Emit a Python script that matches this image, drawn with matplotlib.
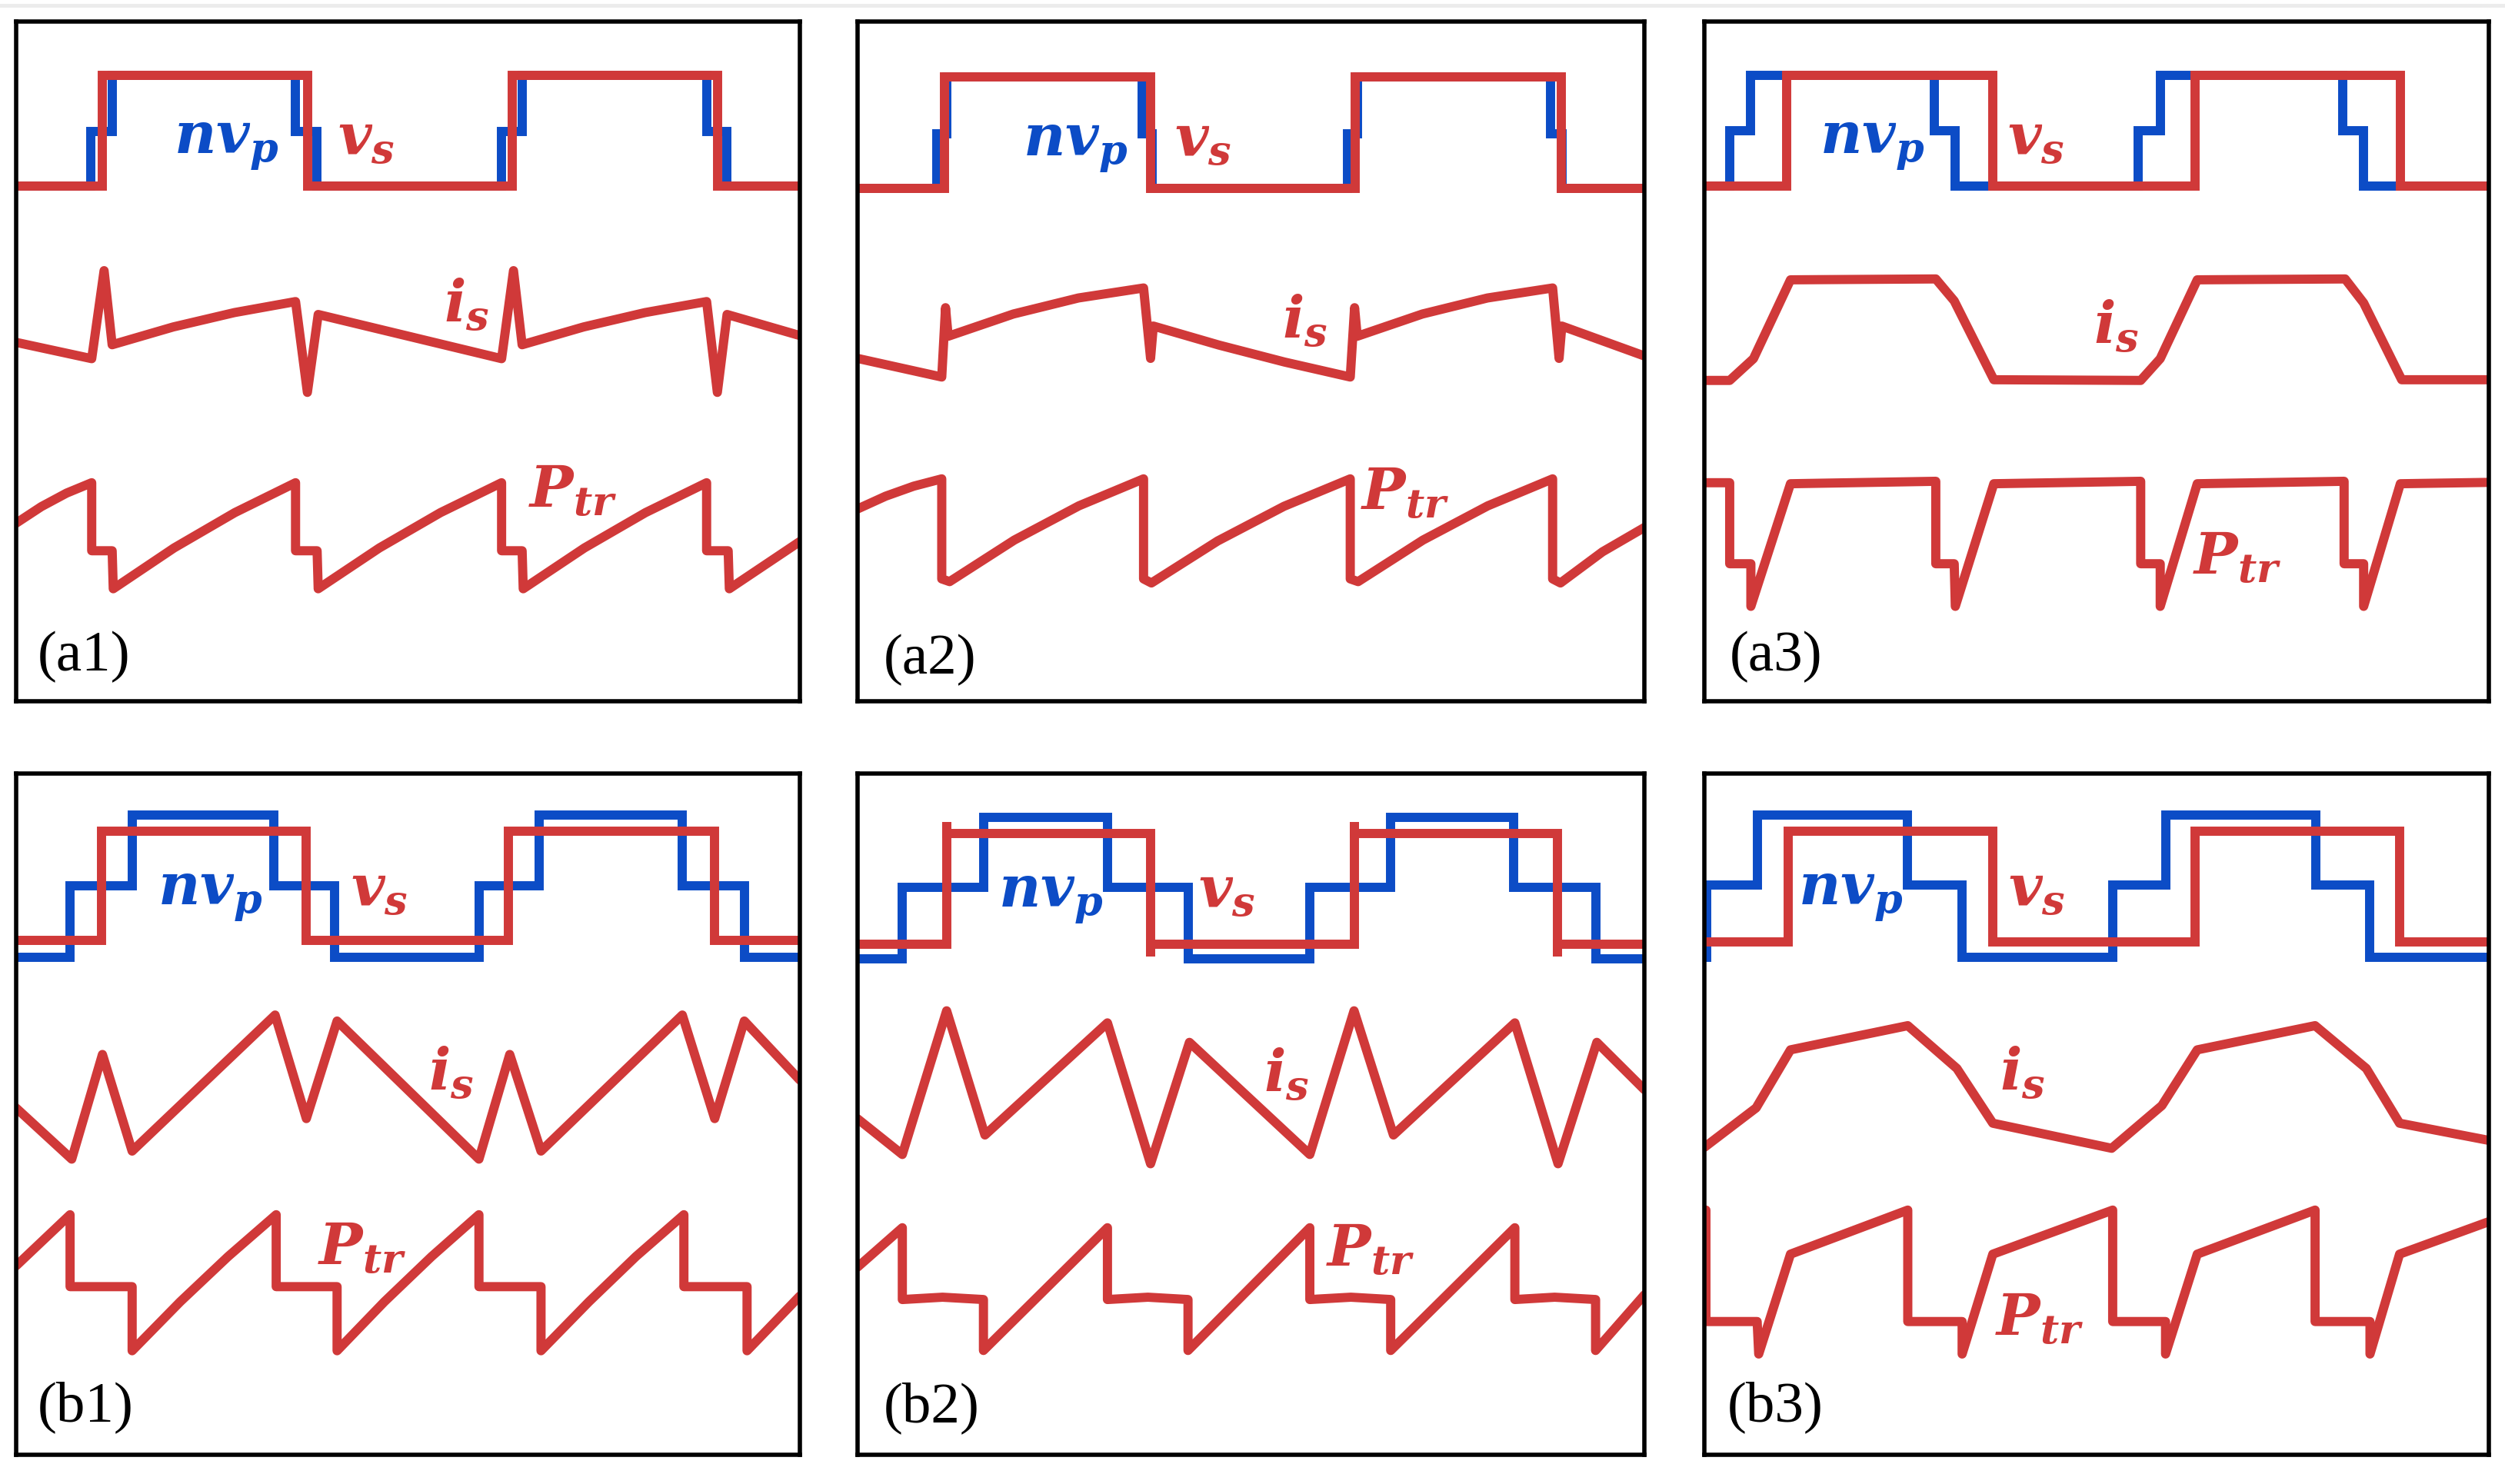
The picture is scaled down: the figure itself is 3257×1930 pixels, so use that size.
import matplotlib
matplotlib.use("Agg")
import matplotlib.pyplot as plt
from matplotlib.patches import Rectangle

RED = "#D03939"
BLUE = "#0C4CC6"

PANEL_TAGS = ["(a1)", "(a2)", "(a3)", "(b1)", "(b2)", "(b3)"]

# ---------------- (a1) ----------------
A1_VS_T = [0, 0.110, 0.372, 0.633, 0.895, 1.0]
A1_VS_Y = [0.7575, 0.921, 0.7575, 0.921, 0.7575, 0.7575]
A1_NVP_T = [0, 0.095, 0.1225, 0.3565, 0.384, 0.619, 0.6456, 0.881, 0.907, 1.0]
A1_NVP_Y = [0.7575, 0.838, 0.921, 0.838, 0.7575, 0.838, 0.921, 0.838, 0.7575, 0.7575]
A1_IS_T = [0, 0.0964, 0.1122, 0.1225, 0.2005, 0.2785, 0.3565, 0.3716, 0.3854, 0.6194, 0.6346,
           0.6456, 0.7241, 0.8025, 0.881, 0.8947, 0.9071, 1.0]
A1_IS_Y = [0.528, 0.504, 0.6335, 0.5245, 0.5507, 0.5718, 0.588, 0.4544, 0.569, 0.504, 0.6335,
           0.5245, 0.5507, 0.5718, 0.588, 0.4544, 0.569, 0.538]
A1_PTR_T = [0, 0.0321, 0.0643, 0.0964, 0.0964, 0.1225, 0.1239, 0.2014, 0.279, 0.3565, 0.3565,
            0.384, 0.3854, 0.4634, 0.5414, 0.6194, 0.6194, 0.6456, 0.647, 0.725, 0.803, 0.881,
            0.881, 0.9085, 0.91, 1.0]
A1_PTR_Y = [0.262, 0.2863, 0.3062, 0.3215, 0.2214, 0.2214, 0.1655, 0.2255, 0.2775, 0.3215, 0.2214,
            0.2214, 0.1655, 0.2255, 0.2775, 0.3215, 0.2214, 0.2214, 0.1655, 0.2255, 0.2775, 0.3215,
            0.2214, 0.2214, 0.1655, 0.235]

# ---------------- (a2) ----------------
A2_VS_T = [0, 0.110, 0.372, 0.632, 0.894, 1.0]
A2_VS_Y = [0.754, 0.918, 0.754, 0.918, 0.754, 0.754]
A2_NVP_T = [0, 0.101, 0.113, 0.362, 0.374, 0.623, 0.635, 0.881, 0.895, 1.0]
A2_NVP_Y = [0.754, 0.835, 0.918, 0.835, 0.754, 0.835, 0.918, 0.835, 0.754, 0.754]
A2_IS_T = [0, 0.107, 0.1118, 0.1152, 0.198, 0.2807, 0.3635, 0.3724, 0.3759, 0.4593, 0.5428,
           0.6262, 0.6317, 0.6351, 0.7179, 0.8006, 0.8834, 0.8916, 0.8951, 1.0]
A2_IS_Y = [0.5044, 0.477, 0.579, 0.537, 0.5697, 0.5933, 0.608, 0.5044, 0.552, 0.524, 0.499,
           0.477, 0.579, 0.537, 0.5697, 0.5933, 0.608, 0.5044, 0.552, 0.508]
A2_PTR_T = [0, 0.0357, 0.0713, 0.107, 0.107, 0.117, 0.1992, 0.2813, 0.3635, 0.3635, 0.3735,
            0.4577, 0.542, 0.6262, 0.6262, 0.6362, 0.7186, 0.801, 0.8834, 0.8834, 0.8934,
            0.9467, 1.0]
A2_PTR_Y = [0.2829, 0.3017, 0.3164, 0.3272, 0.180, 0.176, 0.2371, 0.2875, 0.3272, 0.180, 0.174,
            0.2358, 0.2868, 0.3272, 0.180, 0.176, 0.2371, 0.2875, 0.3272, 0.180, 0.174,
            0.2198, 0.2556]

# ---------------- (a3) ----------------
A3_VS_T = [0, 0.105, 0.3677, 0.625, 0.8875, 1.0]
A3_VS_Y = [0.7575, 0.921, 0.7575, 0.921, 0.7575, 0.7575]
A3_NVP_T = [0, 0.0323, 0.0593, 0.293, 0.320, 0.553, 0.581, 0.8135, 0.840, 1.0]
A3_NVP_Y = [0.7575, 0.839, 0.921, 0.839, 0.7575, 0.839, 0.921, 0.839, 0.7575, 0.7575]
A3_IS_T = [0, 0.0323, 0.0626, 0.1098, 0.295, 0.3185, 0.369, 0.5562, 0.5811, 0.6283,
           0.8168, 0.8404, 0.8889, 1.0]
A3_IS_Y = [0.472, 0.472, 0.504, 0.620, 0.6213, 0.589, 0.473, 0.472, 0.504, 0.620,
           0.6213, 0.586, 0.473, 0.473]
A3_PTR_T = [0, 0.0323, 0.0323, 0.0593, 0.0593, 0.1098, 0.295, 0.295, 0.3185, 0.3199, 0.369,
            0.5562, 0.5562, 0.5811, 0.5811, 0.6283, 0.8155, 0.8155, 0.8404, 0.8404, 0.8872, 1.0]
A3_PTR_Y = [0.3215, 0.3215, 0.2023, 0.2023, 0.1396, 0.320, 0.3236, 0.2023, 0.2023, 0.1396, 0.320,
            0.3236, 0.2023, 0.2023, 0.1396, 0.320, 0.3236, 0.2023, 0.2023, 0.1396, 0.320, 0.322]

# ---------------- (b1) ----------------
B1_VS_T = [0, 0.1087, 0.370, 0.628, 0.891, 1.0]
B1_VS_Y = [0.7546, 0.9148, 0.7546, 0.9148, 0.7546, 0.7546]
B1_NVP_T = [0, 0.0688, 0.148, 0.329, 0.406, 0.5905, 0.6676, 0.850, 0.929, 1.0]
B1_NVP_Y = [0.7307, 0.835, 0.9387, 0.835, 0.7307, 0.835, 0.9387, 0.835, 0.7307, 0.7307]
B1_IS_T = [0, 0.0709, 0.1101, 0.1480, 0.3304, 0.3703, 0.4095, 0.5905, 0.6298, 0.6697,
           0.850, 0.8913, 0.9291, 1.0]
B1_IS_Y = [0.509, 0.434, 0.5876, 0.4458, 0.6455, 0.4935, 0.6367, 0.434, 0.5876, 0.4458,
           0.6455, 0.4935, 0.6367, 0.550]
B1_PTR_T = [0, 0.0688, 0.0688, 0.148, 0.148, 0.2093, 0.2705, 0.3318, 0.3318, 0.4095, 0.4095,
            0.4698, 0.5302, 0.5905, 0.5905, 0.6697, 0.6697, 0.7308, 0.7909, 0.852, 0.852,
            0.9326, 0.9326, 1.0]
B1_PTR_Y = [0.2774, 0.3524, 0.2468, 0.2468, 0.1527, 0.2246, 0.2911, 0.3524, 0.2468, 0.2468, 0.1527,
            0.2246, 0.2911, 0.3524, 0.2468, 0.2468, 0.1527, 0.2246, 0.2911, 0.3524, 0.2468,
            0.2468, 0.1527, 0.2331]

# ---------------- (b2) ----------------
B2_VS_T = [0, 0.1132, 0.1132, 0.3724, 0.3724, 0.631, 0.631, 0.890, 0.890, 1.0]
B2_VS_Y = [0.7497, 0.9286, 0.9116, 0.7313, 0.7497, 0.9286, 0.9116, 0.7313, 0.7497, 0.7497]
B2_NVP_T = [0, 0.0569, 0.160, 0.3176, 0.420, 0.5748, 0.6776, 0.834, 0.938, 1.0]
B2_NVP_Y = [0.7279, 0.8333, 0.9354, 0.8333, 0.7279, 0.8333, 0.9354, 0.8333, 0.7279, 0.7279]
B2_IS_T = [0, 0.0569, 0.1132, 0.1619, 0.3176, 0.3724, 0.4218, 0.5748, 0.631, 0.6811,
           0.8354, 0.8903, 0.9396, 1.0]
B2_IS_Y = [0.4932, 0.4408, 0.6517, 0.4694, 0.634, 0.4272, 0.6054, 0.4408, 0.6517, 0.4694,
           0.634, 0.4272, 0.6054, 0.536]
B2_PTR_T = [0, 0.0569, 0.0569, 0.108, 0.160, 0.160, 0.3176, 0.3176, 0.369, 0.420, 0.420,
            0.5748, 0.5748, 0.627, 0.6776, 0.6776, 0.8354, 0.8354, 0.886, 0.938, 0.938, 1.0]
B2_PTR_Y = [0.2755, 0.3333, 0.2279, 0.2313, 0.2279, 0.1531, 0.3333, 0.2279, 0.2313, 0.2279, 0.1531,
            0.3333, 0.2279, 0.2313, 0.2279, 0.1531, 0.3333, 0.2279, 0.2313, 0.2279, 0.1531, 0.2347]

# ---------------- (b3) ----------------
B3_VS_T = [0, 0.1064, 0.3677, 0.625, 0.886, 1.0]
B3_VS_Y = [0.7526, 0.9148, 0.7526, 0.9148, 0.7526, 0.7526]
B3_NVP_T = [0, 0.003, 0.0673, 0.2593, 0.3286, 0.5205, 0.5879, 0.7798, 0.8485, 1.0]
B3_NVP_Y = [0.7307, 0.8364, 0.9387, 0.8364, 0.7307, 0.8364, 0.9387, 0.8364, 0.7307, 0.7307]
B3_IS_T = [0, 0.066, 0.1098, 0.2593, 0.3219, 0.3677, 0.5192, 0.5832, 0.6283, 0.7785,
           0.8438, 0.8862, 1.0]
B3_IS_Y = [0.4513, 0.5092, 0.5944, 0.6299, 0.5671, 0.4867, 0.4499, 0.5126, 0.5944, 0.6299,
           0.5671, 0.4867, 0.4615]
B3_PTR_T = [0.002, 0.002, 0.0673, 0.0693, 0.1098, 0.2593, 0.2593, 0.3286, 0.3286, 0.3677,
            0.5205, 0.5205, 0.5879, 0.5879, 0.6283, 0.7785, 0.7785, 0.8485, 0.8485, 0.8862, 1.0]
B3_PTR_Y = [0.3592, 0.1956, 0.1956, 0.1479, 0.2945, 0.3592, 0.1956, 0.1956, 0.1479, 0.2945,
            0.3592, 0.1956, 0.1956, 0.1479, 0.2945, 0.3592, 0.1956, 0.1956, 0.1479, 0.2945, 0.3422]

# ---------------- figure ----------------
plt.rcParams["mathtext.fontset"] = "custom"
plt.rcParams["mathtext.it"] = "DejaVu Serif:italic:bold"
plt.rcParams["mathtext.rm"] = "DejaVu Serif:bold"
plt.rcParams["mathtext.bf"] = "DejaVu Serif:italic:bold"

W, H = 3257, 1930
DPI = 100
fig = plt.figure(figsize=(W / DPI, H / DPI), dpi=DPI, facecolor="white")

# faint grey strip at the very top of the page
fig.patches.append(Rectangle((0, 1 - 10 / H), 1, 5 / H, transform=fig.transFigure,
                             facecolor="#ececec", edgecolor="none"))

COLS = [(21, 1040), (1115, 2138), (2216, 3236)]
ROWS = [(28, 912), (1006, 1892)]

panels = [
    (A1_VS_T, A1_VS_Y, A1_NVP_T, A1_NVP_Y, A1_IS_T, A1_IS_Y, A1_PTR_T, A1_PTR_Y),
    (A2_VS_T, A2_VS_Y, A2_NVP_T, A2_NVP_Y, A2_IS_T, A2_IS_Y, A2_PTR_T, A2_PTR_Y),
    (A3_VS_T, A3_VS_Y, A3_NVP_T, A3_NVP_Y, A3_IS_T, A3_IS_Y, A3_PTR_T, A3_PTR_Y),
    (B1_VS_T, B1_VS_Y, B1_NVP_T, B1_NVP_Y, B1_IS_T, B1_IS_Y, B1_PTR_T, B1_PTR_Y),
    (B2_VS_T, B2_VS_Y, B2_NVP_T, B2_NVP_Y, B2_IS_T, B2_IS_Y, B2_PTR_T, B2_PTR_Y),
    (B3_VS_T, B3_VS_Y, B3_NVP_T, B3_NVP_Y, B3_IS_T, B3_IS_Y, B3_PTR_T, B3_PTR_Y),
]

# label centres (axes fraction): nvp, vs, is, ptr, tag(left, centre-y)
LABEL_POS = [
    [(0.268, 0.8195), (0.447, 0.826), (0.5747, 0.5817), (0.710, 0.309), (0.0275, 0.0647)],
    [(0.2764, 0.8166), (0.439, 0.8235), (0.568, 0.558), (0.696, 0.306), (0.033, 0.061)],
    [(0.214, 0.8195), (0.423, 0.826), (0.525, 0.550), (0.679, 0.2105), (0.032, 0.0647)],
    [(0.2478, 0.821), (0.463, 0.828), (0.555, 0.5597), (0.441, 0.303), (0.0275, 0.0695)],
    [(0.245, 0.818), (0.469, 0.825), (0.545, 0.557), (0.652, 0.301), (0.033, 0.068)],
    [(0.1865, 0.821), (0.424, 0.828), (0.405, 0.5597), (0.427, 0.199), (0.029, 0.0695)],
]

LW = 8.6
FS = 54
TAG_FS = 54

for k, (data, pos, tag) in enumerate(zip(panels, LABEL_POS, PANEL_TAGS)):
    r, c = divmod(k, 3)
    x0, x1 = COLS[c]
    y0, y1 = ROWS[r]
    ax = fig.add_axes([x0 / W, 1 - y1 / H, (x1 - x0) / W, (y1 - y0) / H])
    ax.set_xlim(0, 1)
    ax.set_ylim(0, 1)
    ax.set_xticks([])
    ax.set_yticks([])
    for s in ax.spines.values():
        s.set_linewidth(4.0)
        s.set_color("black")
        s.set_zorder(10)
    vs_t, vs_y, nvp_t, nvp_y, is_t, is_y, p_t, p_y = data
    ax.plot(nvp_t, nvp_y, drawstyle="steps-post", color=BLUE, lw=LW,
            solid_joinstyle="miter", solid_capstyle="butt", zorder=2)
    ax.plot(vs_t, vs_y, drawstyle="steps-post", color=RED, lw=LW,
            solid_joinstyle="miter", solid_capstyle="butt", zorder=3)
    ax.plot(is_t, is_y, color=RED, lw=LW, solid_joinstyle="round",
            solid_capstyle="round", zorder=3)
    ax.plot(p_t, p_y, color=RED, lw=LW, solid_joinstyle="round",
            solid_capstyle="round", zorder=3)

    ax.text(*pos[0], r"$nv_p$", color=BLUE, fontsize=FS, ha="center", va="center", zorder=5)
    ax.text(*pos[1], r"$v_s$", color=RED, fontsize=FS, ha="center", va="center", zorder=5)
    ax.text(*pos[2], r"$i_s$", color=RED, fontsize=FS, ha="center", va="center", zorder=5)
    ax.text(*pos[3], r"$P_{tr}$", color=RED, fontsize=FS, ha="center", va="center", zorder=5)
    ax.text(pos[4][0], pos[4][1], tag, color="black", fontsize=TAG_FS,
            family="Liberation Serif", ha="left", va="center", zorder=5)

fig.savefig("out.png", dpi=DPI, facecolor="white")
